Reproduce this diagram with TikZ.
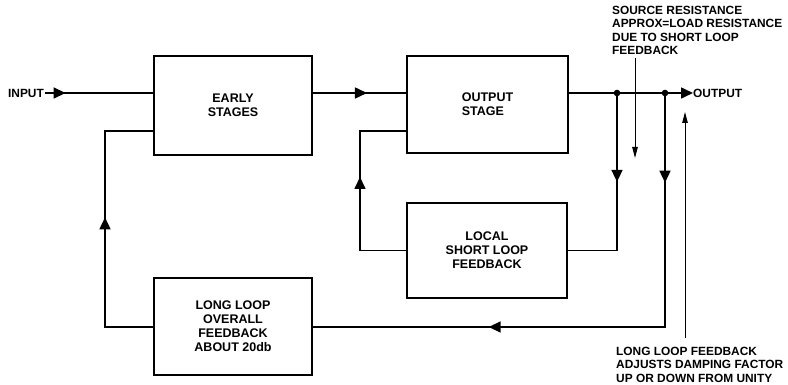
\documentclass[tikz,border=0pt]{standalone}
\usepackage{fontspec}
\setmainfont{Liberation Sans}
\usepackage{tikz}
\usetikzlibrary{arrows.meta,calc,positioning,decorations.markings}

\tikzset{
  blockbox/.style={draw,line width=1.6pt,rectangle,align=center,
    font=\bfseries\fontsize{12.5}{14}\selectfont},
  sig/.style={line width=1.6pt},
  midarrow/.style={postaction={decorate,decoration={markings,
    mark=at position #1 with {\arrow{Triangle[length=12pt,width=11pt]}}}}},
  notetext/.style={align=left,inner sep=1pt,
    font=\bfseries\fontsize{11.9}{13.4}\selectfont},
  notearrow/.style={line width=1pt,-{Triangle[length=11pt,width=5.5pt]}}
}

\begin{document}
\begin{tikzpicture}[x=1pt,y=-1pt]
  \useasboundingbox (0,0) rectangle (788,385);
  \node[blockbox,minimum width=158pt,minimum height=99pt] (early) at (233,105.5) {EARLY\\STAGES};
  \node[blockbox,minimum width=161pt,minimum height=97pt,align=left] (outstage) at (487.5,104.5) {OUTPUT\\STAGE};
  \node[blockbox,minimum width=160pt,minimum height=95pt] (local) at (487,250.5) {LOCAL\\SHORT LOOP\\FEEDBACK};
  \node[blockbox,minimum width=158pt,minimum height=97pt] (longloop) at (233,326.5) {LONG LOOP\\OVERALL\\FEEDBACK\\ABOUT 20db};

  \node[notetext,anchor=east] (inp) at (45,93) {INPUT};
  \node[notetext,anchor=west,inner sep=0pt] (outp) at (693,93) {OUTPUT};
  \coordinate (j1) at (617,93);
  \coordinate (j2) at (665,93);
  \coordinate (fbtop) at (0,131);
  \coordinate (fbbot) at (0,327);
  \coordinate (shortrail) at (360,0);
  \coordinate (longrail) at (105,0);

  % forward path
  \draw[sig,midarrow=0.19] (inp.east) -- (early.west |- inp.east);
  \draw[sig,midarrow=0.58] (early.east |- inp.east) -- (outstage.west |- inp.east);
  \draw[sig,-{Triangle[length=12pt,width=11pt]}] (outstage.east |- j1) -- (j1) -- (j2) -- (outp.west);
  \fill (j1) circle (3.3pt) (j2) circle (3.3pt);

  % short loop
  \draw[sig,midarrow=0.43] (j1) -- (j1 |- local.east) -- (local.east);
  \draw[sig,midarrow=0.565] (local.west) -- (shortrail |- local.west) -- (shortrail |- fbtop) -- (outstage.west |- fbtop);

  % long loop
  \draw[sig,midarrow=0.153,midarrow=0.70] (j2) -- (j2 |- fbbot) -- (longloop.east |- fbbot);
  \draw[sig,midarrow=0.54] (longloop.west |- fbbot) -- (longrail |- fbbot) -- (longrail |- fbtop) -- (early.west |- fbtop);

  % notes
  \node[notetext,anchor=north west] (srcnote) at (611,5)
    {SOURCE RESISTANCE\\APPROX=LOAD RESISTANCE\\DUE TO SHORT LOOP\\FEEDBACK};
  \coordinate (srctip) at (635,158);
  \draw[notearrow,shorten <=2pt] (srcnote.south -| srctip) -- (srctip);
  \node[notetext,anchor=north west,inner sep=0pt] (dampnote) at (616,347)
    {LONG LOOP FEEDBACK\\ADJUSTS DAMPING FACTOR\\UP OR DOWN FROM UNITY};
  \coordinate (damptip) at (685,112);
  \draw[notearrow,shorten <=9pt] (dampnote.north -| damptip) -- (damptip);
\end{tikzpicture}
\end{document}
